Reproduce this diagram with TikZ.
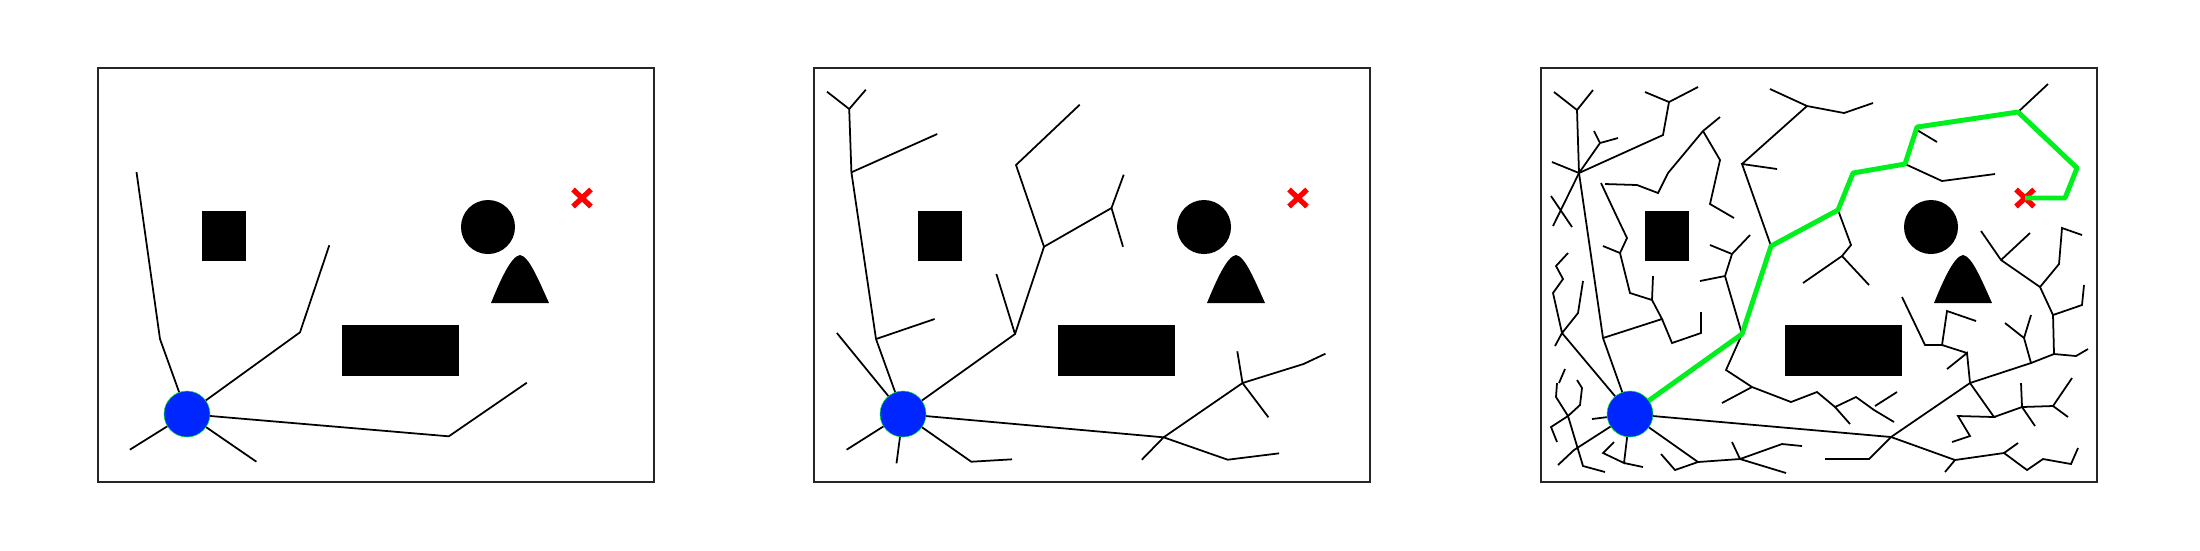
\documentclass[tikz,border=0pt]{standalone}
\definecolor{startblue}{RGB}{0,38,255}
\definecolor{pathgreen}{RGB}{0,240,30}
\definecolor{goalred}{RGB}{255,0,0}
\tikzset{
  frame/.style={draw=black!85, line width=0.55pt},
  obst/.style={fill=black},
  edge/.style={draw=black, line width=0.5pt},
  sol/.style={draw=pathgreen, line width=1.4pt, line join=round},
  startdot/.style={circle, fill=startblue, draw=pathgreen, line width=0.15pt, minimum size=0.46cm, inner sep=0pt},
  goalx/.style={draw=goalred, line width=1.5pt}
}
\newcommand\mapobstacles{%
  \draw[frame] (0,0) rectangle (556,414);
  \fill[obst] (104,143) rectangle (148,193);
  \fill[obst] (243.5,257) rectangle (361,308);
  \fill[obst] (390,159) circle[radius=0.27cm];
  \fill[obst] (393,235) .. controls (402,213) and (413,188) .. (422,187)
        .. controls (431,188) and (441,213) .. (451,235) -- cycle;
}
\newcommand\goalmark[1]{%
  \coordinate (#1) at (484,130);
  \draw[goalx] (#1) ++(-9,-8.5) -- ++(18,17) (#1) ++(-9,8.5) -- ++(18,-17);
}
\begin{document}
\begin{tikzpicture}[x=0.01cm,y=-0.01cm]
\useasboundingbox (0,0) rectangle (2200,550);

% ---------- panel 1 ----------
\begin{scope}[shift={(98,68)}]
\mapobstacles
\goalmark{g1}
\coordinate (s1) at (89,346);
\draw[edge] (s1) -- (62,271) -- (38.5,104);
\draw[edge] (s1) -- (202,264.3) -- (231.3,177.3);
\draw[edge] (s1) -- (350.8,368.3) -- (428.8,314.7);
\draw[edge] (s1) -- (31.8,381.7);
\draw[edge] (s1) -- (158.4,393.7);
\node[startdot] (st1) at (s1) {};
\end{scope}

% ---------- panel 2 ----------
\begin{scope}[shift={(814,68)}]
\mapobstacles
\goalmark{g2}
\coordinate (s2) at (89,346);
\draw[edge] (s2) -- (62,271) -- (37.4,104.3) -- (35.2,41) -- (13,23.7) (35.2,41) -- (51.8,21.7);
\draw[edge] (37.4,104.3) -- (123.2,66);
\draw[edge] (62,271) -- (120.6,251);
\draw[edge] (s2) -- (22.9,265);
\draw[edge] (s2) -- (201,266) -- (230,178.7) -- (202,97) -- (265.7,36.7);
\draw[edge] (201,266) -- (182.4,206);
\draw[edge] (230,178.7) -- (297.5,140) -- (309.7,106.7) (297.5,140) -- (309,178.7);
\draw[edge] (s2) -- (349.6,369.3) -- (327.8,391.7);
\draw[edge] (349.6,369.3) -- (428.5,315) -- (423.3,283.3) (428.5,315) -- (454.4,349.3) (428.5,315) -- (489.5,296) -- (511.4,285.7);
\draw[edge] (349.6,369.3) -- (413.7,391.7) -- (465.1,385.3);
\draw[edge] (s2) -- (157.3,393.7) -- (198,391.3);
\draw[edge] (s2) -- (32.6,381.7);
\draw[edge] (s2) -- (82.5,395.3);
\node[startdot] (st2) at (s2) {};
\end{scope}

% ---------- panel 3 ----------
\begin{scope}[shift={(1541,68)}]
\mapobstacles
\coordinate (s3) at (89,346);
\draw[edge] (s3) -- (62,270) -- (38,105) -- (36,42) -- (13,24) (36,42) -- (52,22);
\draw[edge] (38,105) -- (11,94);
\draw[edge] (38,105) -- (122,67) -- (128,34) -- (104,24) (128,34) -- (157,19);
\draw[edge] (38,105) -- (59,75) -- (53,63) (59,75) -- (77,70);
\draw[edge] (38,105) -- (12,158) (10,128) -- (31,159);
\draw[edge] (62,270) -- (121,251) -- (111,232) -- (112,208) (111,232) -- (89,225) -- (79,185) -- (86,170) -- (75,147) -- (60,115) (79,185) -- (62,178);
\draw[edge] (121,251) -- (131,275) -- (160,265) -- (160,244);
\draw[edge] (64,116) -- (96,117) -- (117,125) -- (127,105) -- (162,63) -- (179,49) (162,63) -- (179,92) -- (169,136) -- (193,150);
\draw[edge] (s3) -- (21,265) -- (12,225) -- (22,211) -- (15,198) -- (27,185) (21,265) -- (37,245) -- (42,213) (21,265) -- (14,278);
\draw[edge] (24,301) -- (18,315) (16,315) -- (15,329) -- (27,348) -- (42,398) -- (64,404) (36,312) -- (41,320) -- (39,337) -- (27,348) -- (10,359) -- (16,374);
\draw[edge] (s3) -- (33,382) -- (17,397);
\draw[edge] (51,351) -- (67,349);
\draw[edge] (s3) -- (86,370) -- (83,395) -- (62,385) -- (73,374) (83,395) -- (102,399);
\draw[edge] (s3) -- (157,394) -- (199,391) -- (191,374) (199,391) -- (241,376) -- (261,378) (199,391) -- (245,405) (157,394) -- (134,402) -- (120,386);
\draw[edge] (s3) -- (350,369) -- (328,391) -- (284,391) (350,369) -- (414,392) -- (404,404) (414,392) -- (463,385) -- (477,375) (463,385) -- (486,402) -- (502,391) -- (530,396) -- (537,380);
\draw[edge] (350,369) -- (429,315) -- (426,285) -- (406,301) (426,285) -- (401,277) -- (384,277) -- (361,229) (401,277) -- (406,243) -- (435,253);
\draw[edge] (429,315) -- (490,295) -- (483,270) -- (490,247) (483,270) -- (464,255);
\draw[edge] (490,295) -- (513,286) -- (512,247) -- (499,219) -- (460,192) -- (440,163) (460,192) -- (489,165) (499,219) -- (518,196) -- (521,160) -- (541,167) (512,247) -- (541,237) -- (543,217) (513,286) -- (535,288) -- (547,281);
\draw[edge] (429,315) -- (453,349) -- (417,348) -- (429,368) -- (411,374) (453,349) -- (481,339) -- (480,315) (481,339) -- (494,358) (481,339) -- (512,338) -- (531,310) (512,338) -- (527,349);
\draw[edge] (201,266) -- (184,208) -- (159,213) (184,208) -- (191,186) -- (169,177) (191,186) -- (209,167);
\draw[edge] (201,266) -- (185,302) -- (211,319) -- (181,335) (211,319) -- (250,334) -- (276,324) -- (294,339) -- (309,356) (294,339) -- (315,329) -- (333,342) -- (353,354) (334,338) -- (356,324);
\draw[edge] (230,178) -- (201,96) -- (236,101) (201,96) -- (266,38) -- (229,21) (266,38) -- (303,45) -- (332,35);
\draw[edge] (297,142) -- (310,177) -- (301,188) -- (262,215) (301,188) -- (328,217);
\draw[edge] (376,62) -- (396,74);
\draw[edge] (364,96) -- (401,113) -- (454,106);
\draw[edge] (477,44) -- (507,16);
\goalmark{g3}
\draw[sol] (s3) -- (201,266) -- (230,178) -- (297,142) -- (312,105) -- (364,96) -- (376,59) -- (477,44) -- (536,100) -- (524,130) -- (g3);
\node[startdot] (st3) at (s3) {};
\end{scope}
\end{tikzpicture}
\end{document}
